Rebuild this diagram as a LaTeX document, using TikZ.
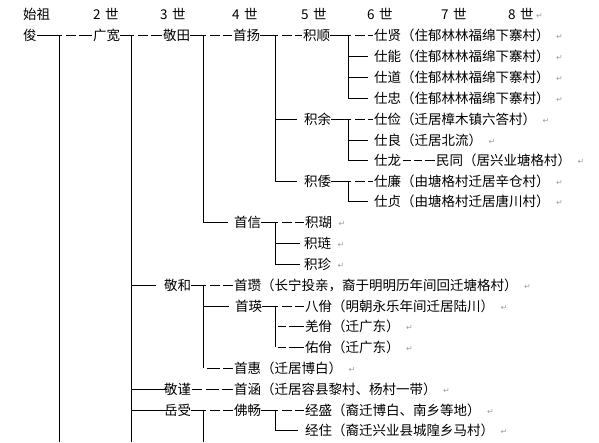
\documentclass[tikz,border=0pt]{standalone}
\usepackage{fontspec}
\newfontfamily\cjk{Noto Sans CJK SC}
\newfontfamily\dejavu{DejaVu Sans}
\usetikzlibrary{calc}
\tikzset{
  nm/.style={anchor=west, inner sep=0pt, font=\cjk\fontsize{13.5}{13.5}\selectfont, text height=11.9pt, text depth=1.6pt},
  retm/.style={anchor=west, inner sep=0pt, font=\dejavu\fontsize{8}{8}\selectfont, text=gray!75},
  ln/.style={line width=1pt, black},
}
% name -- tee at vertical -- two dashes -- next name
\newcommand\teeconn[3]{%
  \draw[ln] (#1.east) -- ($(#1.east -| #2)+(3,0)$);
  \draw[ln] ($(#1.east -| #2)+(7,0)$) -- ($(#1.east -| #2)+(17,0)$);
  \draw[ln] ($(#1.east -| #2)+(20,0)$) -- ($(#3.west)+(-1,0)$);
}
% vertical -- solid line -- name
\newcommand\branch[2]{%
  \draw[ln] (#2.west -| #1) -- ($(#2.west)+(-6,0)$);
}
% vertical -- two dashes -- name
\newcommand\dbranch[2]{%
  \draw[ln] ($(#2.west -| #1)+(3,0)$) -- ($(#2.west -| #1)+(11,0)$);
  \draw[ln] ($(#2.west -| #1)+(14,0)$) -- ($(#2.west)+(-1,0)$);
}
\newcommand\retmark[2]{%
  \node[retm] (#1) at ($(#2.east)+(6,2)$) {↵};
}
\begin{document}
\begin{tikzpicture}[x=1pt, y=-1pt]
\fill[white] (0,0) rectangle (599,442);
\useasboundingbox (0,0) rectangle (599,442);

% header
\node[nm] (h0) at (23,14) {始祖};
\node[nm] (h2) at (93,14) {2\hspace{4.5pt}世};
\node[nm] (h3) at (160,14) {3\hspace{4.5pt}世};
\node[nm] (h4) at (232,14) {4\hspace{4.5pt}世};
\node[nm] (h5) at (301,14) {5\hspace{4.5pt}世};
\node[nm] (h6) at (367,14) {6\hspace{4.5pt}世};
\node[nm] (h7) at (441,14) {7\hspace{4.5pt}世};
\node[nm] (h8) at (508,14) {8\hspace{4.5pt}世};
\node[retm] (rh) at ($(h8.east)+(2,2)$) {↵};

% vertical coordinates
\coordinate (v1) at (59,35);  \coordinate (v1b) at (59,442);
\coordinate (v2) at (131,35); \coordinate (v2b) at (131,442);
\coordinate (v3) at (203,35);
\coordinate (v4) at (275,35);
\coordinate (v5) at (348,35);

% row 1
\node[nm] (jun) at (23,35) {俊};
\node[nm] (gk) at (93,35) {广宽};
\node[nm] (jt) at (163,35) {敬田};
\node[nm] (sy) at (233,35) {首扬};
\node[nm] (js) at (303,35) {积顺};
\node[nm] (t1) at (374,35) {仕贤（住郁林林福绵下寨村）};
\teeconn{jun}{v1}{gk}
\teeconn{gk}{v2}{jt}
\teeconn{jt}{v3}{sy}
\teeconn{sy}{v4}{js}
\teeconn{js}{v5}{t1}
\draw[ln] (v1) -- (v1b);
\draw[ln] (v2) -- (v2b);

% rows 2-4
\node[nm] (t2) at (374,56) {仕能（住郁林林福绵下寨村）};
\node[nm] (t3) at (374,77) {仕道（住郁林林福绵下寨村）};
\node[nm] (t4) at (374,98) {仕忠（住郁林林福绵下寨村）};
\branch{v5}{t2}
\branch{v5}{t3}
\branch{v5}{t4}
\draw[ln] (v5) -- (t4.west -| v5);

% rows 5-7
\node[nm] (jy) at (304,119) {积余};
\coordinate (v5b) at (348,119);
\node[nm] (t5) at (374,119) {仕俭（迁居樟木镇六答村）};
\draw[ln] (jy.west -| v4) -- ($(jy.west)+(-7,0)$);
\teeconn{jy}{v5b}{t5}
\node[nm] (t6) at (374,140) {仕良（迁居北流）};
\branch{v5b}{t6}
\node[nm] (t7) at (374,160) {仕龙};
\node[nm] (mt) at (436,160) {民同（居兴业塘格村）};
\branch{v5b}{t7}
\draw[ln] ($(t7.east)+(2,0)$) -- ($(t7.east)+(10,0)$);
\draw[ln] ($(t7.east)+(13,0)$) -- ($(t7.east)+(21,0)$);
\draw[ln] ($(t7.east)+(24,0)$) -- ($(mt.west)+(-1,0)$);
\draw[ln] (v5b) -- (t7.west -| v5b);

% rows 8-9
\node[nm] (jw) at (304,181) {积倭};
\coordinate (v5c) at (348,181);
\node[nm] (t8) at (374,181) {仕廉（由塘格村迁居辛仓村）};
\draw[ln] (jw.west -| v4) -- ($(jw.west)+(-7,0)$);
\teeconn{jw}{v5c}{t8}
\node[nm] (t9) at (374,201) {仕贞（由塘格村迁居唐川村）};
\branch{v5c}{t9}
\draw[ln] (v5c) -- (t9.west -| v5c);
\draw[ln] (v4) -- (jw.west -| v4);

% rows 10-12
\node[nm] (sx) at (234,222) {首信};
\draw[ln] (sx.west -| v3) -- ($(sx.west)+(-6,0)$);
\draw[ln] (v3) -- (sx.west -| v3);
\coordinate (v4b) at (275,222);
\node[nm] (j1) at (305,222) {积瑚};
\teeconn{sx}{v4b}{j1}
\node[nm] (j2) at (304,243) {积琏};
\node[nm] (j3) at (304,264) {积珍};
\draw[ln] (j2.west -| v4b) -- ($(j2.west)+(-4,0)$);
\draw[ln] (j3.west -| v4b) -- ($(j3.west)+(-4,0)$);
\draw[ln] (v4b) -- (j3.west -| v4b);

% row 13
\node[nm] (jh) at (164,285) {敬和};
\draw[ln] (jh.west -| v2) -- ($(jh.west)+(-8,0)$);
\coordinate (v3b) at (203,285);
\node[nm] (sz) at (234,285) {首瓒（长宁投亲，裔于明明历年间回迁塘格村）};
\teeconn{jh}{v3b}{sz}

% rows 14-16
\node[nm] (sy2) at (235,306) {首瑛};
\branch{v3b}{sy2}
\coordinate (v4c) at (275,306);
\node[nm] (b1) at (305,306) {八佾（明朝永乐年间迁居陆川）};
\teeconn{sy2}{v4c}{b1}
\node[nm] (b2) at (305,326) {羌佾（迁广东）};
\node[nm] (b3) at (305,347) {佑佾（迁广东）};
\dbranch{v4c}{b2}
\dbranch{v4c}{b3}
\draw[ln] (v4c) -- (b3.west -| v4c);

% row 17
\node[nm] (sh) at (234,368) {首惠（迁居博白）};
\draw[ln] ($(sh.west -| v3b)+(4,0)$) -- ($(sh.west -| v3b)+(17,0)$);
\draw[ln] ($(sh.west -| v3b)+(20,0)$) -- ($(sh.west)+(-1,0)$);
\draw[ln] (v3b) -- (sh.west -| v3b);

% row 18
\node[nm] (jj) at (164,389) {敬谨};
\node[nm] (shan) at (234,389) {首涵（迁居容县黎村、杨村一带）};
\draw[ln] (jj.west -| v2) -- ($(jj.west)+(3,0)$);
\draw[ln] ($(jj.east)+(1,0)$) -- ($(jj.east)+(11,0)$);
\draw[ln] ($(jj.east)+(15,0)$) -- ($(jj.east)+(28,0)$);
\draw[ln] ($(jj.east)+(31,0)$) -- ($(shan.west)+(-1,0)$);

% rows 19-20
\node[nm] (ys) at (164,410) {岳受};
\draw[ln] (ys.west -| v2) -- ($(ys.west)+(3,0)$);
\coordinate (v3c) at (203,410); \coordinate (v3cb) at (203,442);
\node[nm] (fc) at (234,410) {佛畅};
\teeconn{ys}{v3c}{fc}
\draw[ln] (v3c) -- (v3cb);
\coordinate (v4d) at (275,410);
\node[nm] (e1) at (305,410) {经盛（裔迁博白、南乡等地）};
\teeconn{fc}{v4d}{e1}
\node[nm] (e2) at (305,430) {经住（裔迁兴业县城隍乡马村）};
\draw[ln] (e2.west -| v4d) -- ($(e2.west)+(-7,0)$);
\draw[ln] (v4d) -- (e2.west -| v4d);

% return marks
\retmark{r1}{t1}
\retmark{r2}{t2}
\retmark{r3}{t3}
\retmark{r4}{t4}
\retmark{r5}{t5}
\retmark{r6}{t6}
\retmark{r7}{mt}
\retmark{r8}{t8}
\retmark{r9}{t9}
\retmark{r10}{j1}
\retmark{r11}{j2}
\retmark{r12}{j3}
\retmark{r13}{sz}
\retmark{r14}{b1}
\retmark{r15}{b2}
\retmark{r16}{b3}
\retmark{r17}{sh}
\retmark{r18}{shan}
\retmark{r19}{e1}
\retmark{r20}{e2}
\end{tikzpicture}
\end{document}
